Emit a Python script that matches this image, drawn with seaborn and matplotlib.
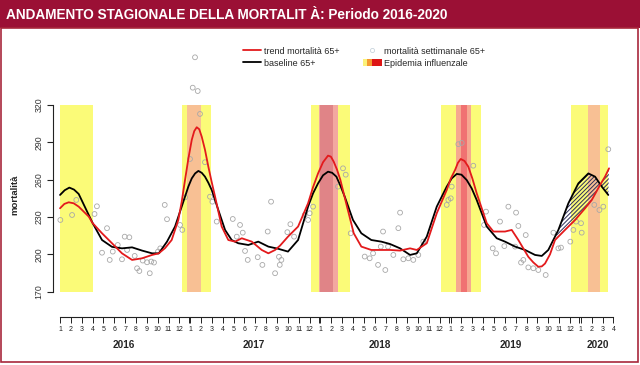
import numpy as np
import pandas as pd
import seaborn as sns
import matplotlib
matplotlib.use("Agg")
import matplotlib.pyplot as plt
from matplotlib.patches import Rectangle, Polygon, Patch
from matplotlib.lines import Line2D
from matplotlib.legend_handler import HandlerTuple
import matplotlib.transforms as mtransforms

# %% data -- x in months since Jan 2016 (0 = Jan 2016)
trend_x = [0.0, 0.4, 0.8, 1.26, 1.72, 2.65, 3.01, 3.87, 4.79, 5.71, 6.64, 7.56, 8.48, 9.1, 9.68, 10.29, 10.9, 11.21,
           11.52, 11.83, 12.14, 12.37, 12.6, 12.83, 13.06, 13.36, 13.67, 13.98, 14.29, 14.9, 15.51, 16.13, 16.75,
           17.67, 18.59, 19.2, 19.82, 20.28, 21.01, 21.94, 22.86, 23.32, 23.78, 24.24, 24.7, 24.96, 25.22, 25.53,
           25.84, 26.45, 27.07, 27.77, 28.69, 29.61, 30.41, 31.34, 32.26, 32.88, 33.8, 34.72, 35.64, 36.02, 36.41,
           36.67, 36.93, 37.28, 37.63, 38.0, 38.4, 39.33, 39.94, 41.01, 41.63, 42.24, 43.16, 43.62, 44.08, 44.4,
           44.7, 45.16, 45.62, 46.54, 47.47, 48.39, 49.01, 49.77, 50.23, 50.6]
trend_y = [237, 240.5, 241.8, 241, 238.3, 230.3, 225, 216.9, 208.9, 200.8, 195.5, 196.8, 199.5, 200.8, 205, 211.5, 227.6, 242,
           259.7, 277, 291.9, 299, 302.1, 300.5, 294.5, 284, 270.4, 258, 246.3, 222.3, 211.5, 210.2, 212.9,
           210.2, 203.5, 200.8, 203.5, 207, 214.2, 222.3, 241, 254, 265, 274, 279.3, 278.5, 274.5, 268,
           259.7, 238.3, 216.9, 206.2, 203.5, 203.5, 203.5, 203, 204.8, 203.5, 208.9, 233, 251.7, 261, 267.8,
           273.5, 276.6, 275, 270.4, 261, 249.1, 225, 218.3, 218.3, 219.6, 211.5, 198, 193.5, 190, 190.3,
           192.6, 200, 211.5, 219.6, 227.6, 237, 243.7, 255.7, 262.4, 269.1]

base_x = [0.0, 0.43, 0.86, 1.29, 1.72, 3.01, 3.87, 4.79, 5.71, 6.64, 7.56, 8.48, 9.1, 9.86, 10.6, 11.52, 11.83, 12.14,
          12.45, 12.75, 13.06, 13.36, 13.67, 13.98, 14.59, 15.21, 15.82, 16.43, 17.35, 18.27, 19.2, 20.09, 21.01,
          21.94, 22.86, 23.32, 23.78, 24.24, 24.7, 25.08, 25.47, 25.85, 26.24, 27.0, 27.77, 28.69, 29.61, 30.41,
          31.34, 32.26, 32.88, 33.8, 34.72, 35.64, 36.1, 36.56, 37.0, 37.48, 37.94, 38.4, 39.33, 40.25, 41.01,
          41.94, 42.86, 43.78, 44.4, 45.0, 45.93, 46.85, 47.77, 48.69, 49.31, 49.93, 50.53]
base_y = [247.7, 251.5, 253.6, 252, 248.5, 225, 211.5, 206, 204.8, 205.6, 203, 200.8, 200.8, 210.2, 222.3, 246.3, 254.5, 261,
          265, 267, 265.5, 262.4, 257.5, 251.7, 235.6, 219.6, 211.5, 208.9, 207.5, 210.2, 206.2, 204.5, 202.2,
          211.5, 238.3, 249, 257, 263.5, 266.4, 265.5, 262.4, 255, 246.3, 227.6, 216.9, 211.5, 210.2, 208.3,
          204.8, 199.5, 200.8, 214.2, 238.3, 254.4, 261, 264.6, 264, 259.7, 253, 243.7, 222.3, 212.9, 210.2,
          206.2, 203.5, 199.5, 198.7, 203.5, 219.6, 241, 257, 265, 262.4, 254.4, 247.7]

week_x = [0.03, 1.11, 1.5, 3.4, 3.18, 4.33, 3.87, 4.58, 4.86, 5.32,
          5.96, 6.39, 5.71, 6.18, 6.88, 7.1, 7.31, 7.62, 8.02, 8.41,
          8.66, 8.27, 9.03, 9.24, 9.65, 9.86, 11.06, 11.27, 12.44, 12.23,
          12.69, 12.9, 11.98, 13.36, 11.52, 13.82, 14.04, 14.44, 15.92, 16.59,
          16.84, 16.29, 17.05, 17.3, 18.22, 18.65, 19.14, 19.45, 19.82, 20.18,
          21.23, 20.95, 21.57, 20.4, 20.25, 22.55, 23.01, 23.32, 22.86, 26.08,
          26.33, 25.62, 26.79, 28.08, 28.54, 28.85, 29.31, 29.77, 29.98, 30.23,
          29.56, 31.34, 31.18, 30.72, 31.64, 32.1, 32.56, 33.02, 33.48, 35.64,
          35.79, 36.01, 36.1, 36.71, 37.02, 38.09, 39.26, 39.08, 40.55, 39.88,
          40.18, 40.95, 41.32, 42.03, 42.24, 42.92, 41.94, 42.7, 42.49, 43.16,
          43.62, 44.08, 44.76, 45.47, 45.93, 46.17, 47.03, 47.31, 47.56, 48.02,
          48.08, 49.24, 49.71, 50.07, 50.53]
week_y = [227.6, 231.6, 243.7, 238.6, 232.4, 221, 201.3, 195.5, 202.2, 207.5,
          214.2, 213.7, 196, 203.5, 198.7, 188.8, 186.6, 195, 193.6, 194.2,
          193.4, 184.8, 202.2, 204.8, 239.7, 228.2, 223.6, 219.6, 358.3, 333.9,
          331.2, 312.8, 276.6, 274, 245.8, 246.3, 242.3, 226.3, 228.4, 223.6,
          217.4, 214.2, 202.7, 195.5, 197.7, 191.5, 218.3, 242.3, 184.8, 198,
          224.2, 217.8, 214.2, 195.5, 191.5, 231.6, 233, 238.3, 227.6, 269.1,
          264, 254.4, 216.9, 198.2, 196.8, 200.8, 191.5, 218.3, 187.4, 206.2,
          206.2, 233.5, 221, 199.5, 196, 196.8, 195.5, 199.5, 210.2, 239.7,
          243.7, 245, 254.4, 288.5, 289.5, 271.2, 234.3, 223.6, 226.3, 204.8,
          200.8, 206.6, 238.3, 233.5, 222.8, 215.5, 206.2, 195.5, 193.4, 189.5,
          188.8, 187.4, 183.4, 217.4, 204.8, 205.4, 210.2, 219.6, 226.3, 225,
          217.4, 239.7, 235.6, 238.3, 284.4]

# flu seasons (yellow), peak weeks (orange) and epidemic weeks (red)
season_start = [0.0, 11.22, 23.1, 35.09, 47.1]
season_end = [3.0, 13.92, 26.7, 38.77, 50.48]
peak_start = [None, 11.7, 23.84, 36.5, 48.7]
peak_end = [None, 13.0, 25.6, 37.85, 49.77]
epi_start = [None, None, 23.93, 36.93, None]
epi_end = [None, None, 25.16, 37.48, None]
peak_colors = [None, '#f8c094', '#f3a8a0', '#f6a890', '#f8c094']
epi_colors = [None, None, '#e08487', '#f07272', None]

month_labels = [str(m) for m in range(1, 13)] * 4 + ['1', '2', '3', '4']
years = ['2016', '2017', '2018', '2019', '2020']
year_pos = [5.9, 17.9, 29.5, 41.5, 49.55]
y_ticks = [170, 200, 230, 260, 290, 320]

# %%
sns.set_style('white')
plt.rcParams['font.family'] = ['Liberation Sans', 'DejaVu Sans']
plt.rcParams['hatch.linewidth'] = 0.7

fig = plt.figure(figsize=(6.4, 3.65), dpi=100)
ax = fig.add_axes([53.3 / 640, 1 - 300 / 365, (625 - 53.3) / 640, 260 / 365])
ax.set_xlim(-0.62, 52.07)
ax.set_ylim(163.3, 372.2)

# bands
for i in range(len(season_start)):
    ax.fill_betweenx([170, 320], season_start[i], season_end[i], color='#fbfb78', lw=0, zorder=0)
    if peak_start[i] is not None:
        ax.fill_betweenx([170, 320], peak_start[i], peak_end[i], color=peak_colors[i], lw=0, zorder=0.5)
    if epi_start[i] is not None:
        ax.fill_betweenx([170, 320], epi_start[i], epi_end[i], color=epi_colors[i], lw=0, zorder=0.6)

# weekly points
sns.scatterplot(x=week_x, y=week_y, ax=ax, marker='o', s=12, linewidth=0.6, zorder=2, legend=False)
pts = ax.collections[-1]
pts.set_facecolor('none')
pts.set_edgecolor('#a8a8a8')
pts.set_clip_on(False)

# hatched excess area (winter 2019-2020)
tx = np.array(trend_x); ty = np.array(trend_y)
bx = np.array(base_x); by = np.array(base_y)
mr = tx >= 45.5
mb = bx >= 45.5
poly_xy = np.column_stack([np.r_[tx[mr], bx[mb][::-1]], np.r_[ty[mr], by[mb][::-1]]])
ax.add_patch(Polygon(poly_xy, closed=True, fill=False, hatch='////////', edgecolor='#2c2c5a', lw=0, zorder=2.5))

sns.lineplot(x=base_x, y=base_y, ax=ax, color='black', lw=1.3, estimator=None, sort=False, zorder=3)
sns.lineplot(x=trend_x, y=trend_y, ax=ax, color='#e31a1c', lw=1.3, estimator=None, sort=False, zorder=4)

# axes styling (R-like)
for s in ['top', 'right']:
    ax.spines[s].set_visible(False)
ax.spines['left'].set_bounds(170, 320)
ax.spines['bottom'].set_bounds(0, 51)
ax.spines['bottom'].set_position(('outward', 12.5))
for s in ['left', 'bottom']:
    ax.spines[s].set_color('#222222')
    ax.spines[s].set_linewidth(0.8)

ax.set_yticks(y_ticks)
ax.set_yticklabels([str(v) for v in y_ticks], rotation=90, va='center')
ax.tick_params(axis='y', length=4, width=0.8, color='#222222', labelsize=6.3, labelcolor='#333333', pad=3, left=True)

ax.set_xticks(range(len(month_labels)))
ax.set_xticklabels(month_labels)
ax.set_xticks([11.85, 23.85, 35.85, 47.85], minor=True)
ax.tick_params(axis='x', which='both', length=4.5, width=0.7, color='#222222', bottom=True)
ax.tick_params(axis='x', labelsize=5, labelcolor='#222222', pad=1.5)

trans = mtransforms.blended_transform_factory(ax.transData, ax.transAxes)
for yr, xp in zip(years, year_pos):
    ax.text(xp, -0.172, yr, transform=trans, ha='center', va='center', fontsize=7.2, fontweight='bold')

ax.set_ylabel('mortalità', fontsize=6.8, fontweight='bold')
ax.yaxis.set_label_coords(-0.059, 0.404)
ax.set_xlabel('')

# legend
handles = [
    Line2D([], [], color='#e31a1c', lw=1.3),
    Line2D([], [], color='black', lw=1.3),
    Line2D([], [], ls='', marker='o', markersize=3, markerfacecolor='none', markeredgecolor='#c8d4dc', markeredgewidth=0.6),
    (Patch(color='#fbf27a', lw=0), Patch(color='#f49a30', lw=0), Patch(color='#dd1515', lw=0), Patch(color='#dd1515', lw=0)),
]
labels = ['trend mortalità 65+', 'baseline 65+', 'mortalità settimanale 65+', 'Epidemia influenzale']
fig.legend(handles, labels, ncol=2, loc='upper left', bbox_to_anchor=(238 / 640, 1 - 42 / 365),
           frameon=False, fontsize=6.5, handlelength=2.1, handleheight=0.8, handletextpad=0.25,
           columnspacing=2.6, labelspacing=0.35, borderpad=0,
           handler_map={tuple: HandlerTuple(ndivide=None, pad=0)})

# title bar and frame
fig.patches.append(Rectangle((0, 1 - 28 / 365), 1, 28 / 365, transform=fig.transFigure,
                             facecolor='#9b1035', edgecolor='none', zorder=0))
fig.patches.append(Rectangle((1 / 640, 3 / 365), 637 / 640, (362 - 28) / 365, transform=fig.transFigure,
                             fill=False, edgecolor='#a8283c', lw=1.2, zorder=0))
fig.text(6 / 640, 1 - 15 / 365, 'ANDAMENTO STAGIONALE DELLA MORTALIT À: Periodo 2016-2020',
         color='white', fontweight='bold', fontsize=9.8, family=['Liberation Sans', 'DejaVu Sans'],
         ha='left', va='center')

fig.savefig('out.png', dpi=100)
